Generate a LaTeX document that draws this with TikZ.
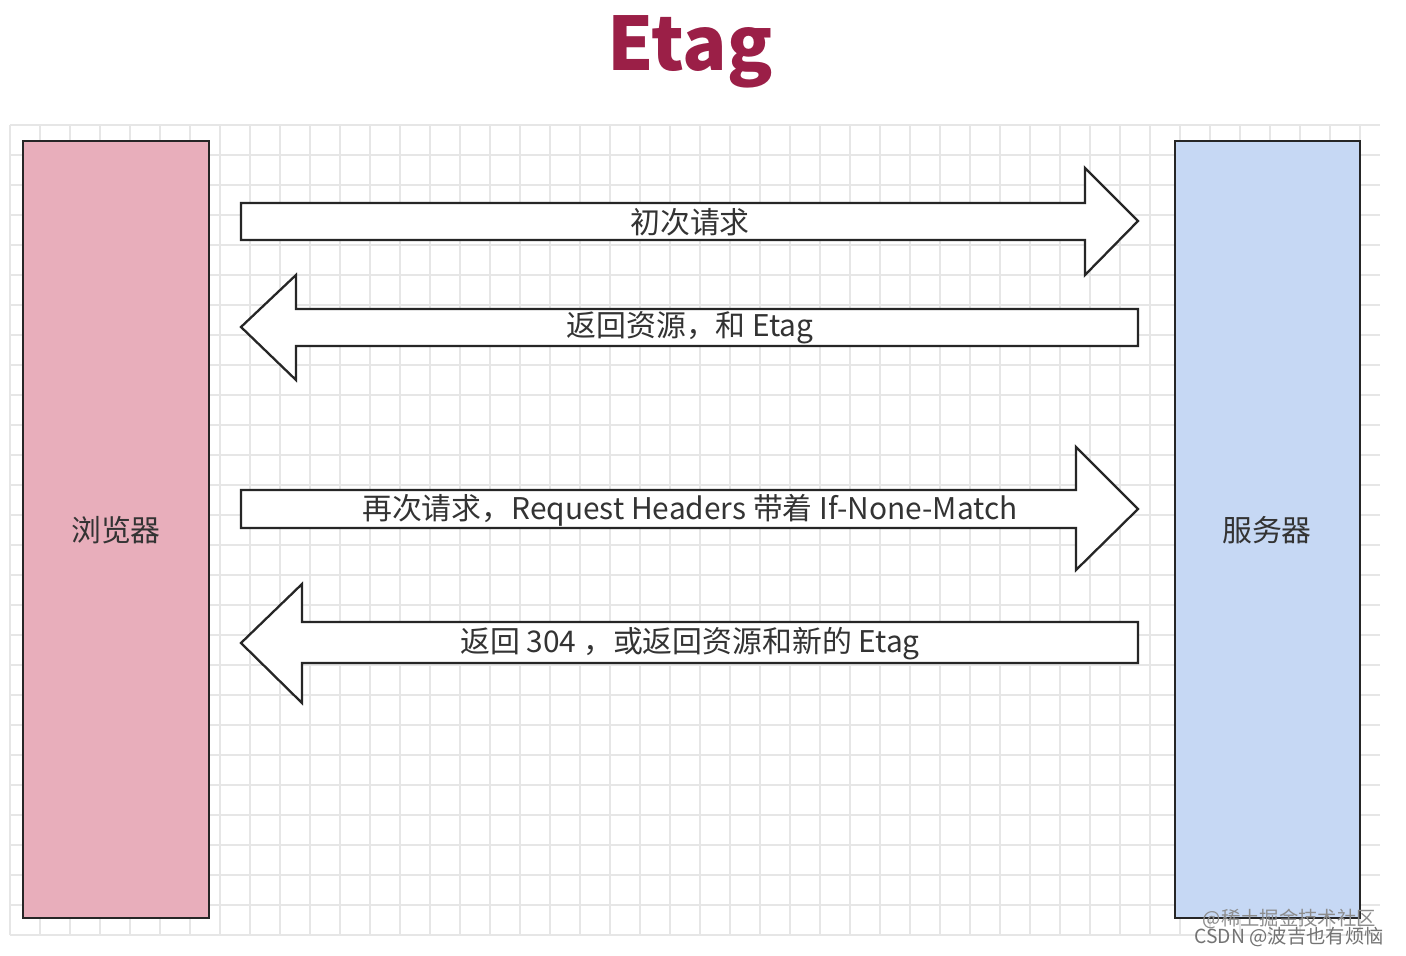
\documentclass[tikz,border=0pt]{standalone}
\usepackage{fontspec}
\setmainfont{Noto Sans CJK SC}
\usepackage{tikz}
\usetikzlibrary{positioning}
\definecolor{titlered}{HTML}{9B1F47}
\definecolor{boxpink}{HTML}{E8AEBB}
\definecolor{boxblue}{HTML}{C6D8F4}
\definecolor{gridgray}{HTML}{E6E6E6}
\tikzset{
  side/.style={draw=black!85, line width=1.5pt},
  fatarrow/.style={draw=black!85, line width=1.3pt, fill=white, line join=miter},
  msg/.style={font=\fontsize{17}{20}\selectfont, text=black!80},
}
\begin{document}
\begin{tikzpicture}[x=0.02cm, y=-0.02cm]
\useasboundingbox (0,0) rectangle (1406,956);
\fill[white] (0,0) rectangle (1406,956);
\foreach \gx in {10,40,...,1380}
  \draw[gridgray, line width=0.6pt] (\gx,125) -- (\gx,935);
\foreach \gy in {125,155,...,935}
  \draw[gridgray, line width=0.6pt] (10,\gy) -- (1380,\gy);

\node[font=\fontsize{42}{48}\selectfont\bfseries, text=titlered] (title) at (690,52) {Etag};

\draw[side, fill=boxpink] (23,141) rectangle (209,918);
\draw[side, fill=boxblue] (1175,141) rectangle (1360,918);
\node[msg] (browser) at (116,530) {浏览器};
\node[msg] (server) at (1267,530) {服务器};

% first request
\draw[fatarrow] (241,203) -- (1085,203) -- (1085,168) -- (1138,221) -- (1085,275)
  -- (1085,240) -- (241,240) -- cycle;
\node[msg] (req1) at (690,222) {初次请求};
% response with etag
\draw[fatarrow] (1138,309) -- (296,309) -- (296,275) -- (241,327) -- (296,380)
  -- (296,346) -- (1138,346) -- cycle;
\node[msg] (res1) at (690,328) {返回资源，和 Etag};
% second request
\draw[fatarrow] (241,490) -- (1076,490) -- (1076,447) -- (1138,509) -- (1076,570)
  -- (1076,528) -- (241,528) -- cycle;
\node[msg] (req2) at (690,510) {再次请求，Request Headers 带着 If-None-Match};
% 304 or new resource
\draw[fatarrow] (1138,622) -- (302,622) -- (302,584) -- (241,643) -- (302,703)
  -- (302,663) -- (1138,663) -- cycle;
\node[msg] (res2) at (690,644) {返回 304 ，或返回资源和新的 Etag};

\node[font=\fontsize{11}{12}\selectfont, text=black!45, anchor=east] (mark1) at (1382,919) {@稀土掘金技术社区};
\node[font=\fontsize{11}{12}\selectfont, text=black!55, anchor=east] (mark2) at (1390,937) {CSDN @波吉也有烦恼};
\end{tikzpicture}
\end{document}
